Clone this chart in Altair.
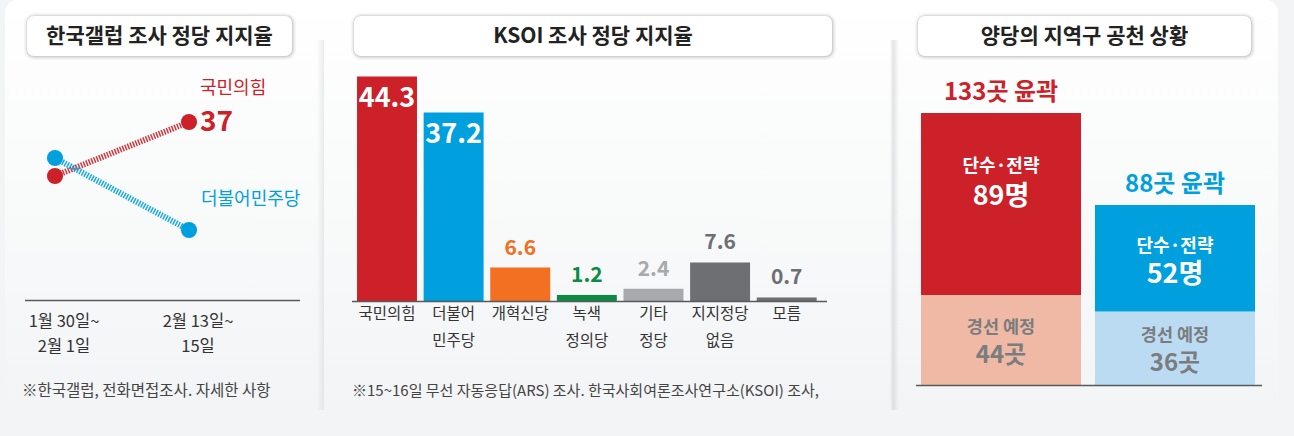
import altair as alt
import pandas as pd

# ---------------- data ----------------
gallup_dates = ["1월 30일~\n2월 1일", "2월 13일~\n15일"]
gallup_parties = ["국민의힘", "더불어민주당"]
gallup_ppp = [34, 37]
gallup_dem = [35, 31]

ksoi_cats = ["국민의힘", "더불어\n민주당", "개혁신당", "녹색\n정의당", "기타\n정당", "지지정당\n없음", "모름"]
ksoi_vals = [44.3, 37.2, 6.6, 1.2, 2.4, 7.6, 0.7]

nom_parties = ["국민의힘", "더불어민주당"]
nom_direct = [89, 52]
nom_primary = [44, 36]
seg_names = ["경선 예정", "단수·전략"]

titles = ["한국갤럽 조사 정당 지지율", "KSOI 조사 정당 지지율", "양당의 지역구 공천 상황"]
notes = ["※한국갤럽, 전화면접조사. 자세한 사항",
         "※15~16일 무선 자동응답(ARS) 조사. 한국사회여론조사연구소(KSOI) 조사,"]

# ---------------- style ----------------
KR = "Noto Sans CJK KR"
RED = "#cc2129"
BLUE = "#00a0de"
ORANGE = "#f36f21"
GREEN = "#0b8c45"
LGRAY = "#a7a9ac"
DGRAY = "#6e6f72"
PINK = "#efb9a5"
LBLUE = "#bbdbf3"
SEGTXT = "#7b7c7e"
bar_colors = [RED, BLUE, ORANGE, GREEN, LGRAY, DGRAY, DGRAY]

H = 436
W1, W2, W3 = 330, 560, 404

one = pd.DataFrame({"k": [0]})

card_grad = alt.Gradient(
    gradient="linear", x1=0, x2=0, y1=0, y2=1,
    stops=[alt.GradientStop(color="#ffffff", offset=0),
           alt.GradientStop(color="#f9fafa", offset=0.45),
           alt.GradientStop(color="#f3f4f6", offset=0.95)])


def card(x0, x1, **kw):
    return alt.Chart(one).mark_rect(color=card_grad, **kw).encode(
        x=alt.value(x0), x2=alt.value(x1), y=alt.value(0), y2=alt.value(H))


def shadow(x0, x1, stops):
    g = alt.Gradient(gradient="linear", x1=0, x2=1, y1=0, y2=0,
                     stops=[alt.GradientStop(color=c, offset=o) for o, c in stops])
    return alt.Chart(one).mark_rect(color=g).encode(
        x=alt.value(x0), x2=alt.value(x1), y=alt.value(40), y2=alt.value(410))


def title_box(x0, x1, text):
    b = alt.Chart(pd.DataFrame({"t": [text]}))
    return [
        b.mark_rect(cornerRadius=10, color="#000000", opacity=0.035).encode(
            x=alt.value(x0 - 3), x2=alt.value(x1 + 4), y=alt.value(13), y2=alt.value(60)),
        b.mark_rect(cornerRadius=9, color="#000000", opacity=0.06).encode(
            x=alt.value(x0 - 1.5), x2=alt.value(x1 + 2.5), y=alt.value(14.5), y2=alt.value(58.5)),
        b.mark_rect(cornerRadius=8, color="#000000", opacity=0.09).encode(
            x=alt.value(x0 - 0.5), x2=alt.value(x1 + 1.2), y=alt.value(15.5), y2=alt.value(57.2)),
        b.mark_rect(cornerRadius=7, color="#ffffff").encode(
            x=alt.value(x0), x2=alt.value(x1), y=alt.value(16), y2=alt.value(56)),
        b.mark_text(font=KR, fontSize=21, fontWeight="bold", color="#222222",
                    baseline="middle").encode(
            x=alt.value((x0 + x1) / 2), y=alt.value(36.5), text="t:N"),
    ]


def footnote(x0, text, size):
    return alt.Chart(pd.DataFrame({"t": [text]})).mark_text(
        font=KR, fontSize=size, align="left", baseline="middle", color="#444444").encode(
        x=alt.value(x0), y=alt.value(391), text="t:N")


def baseline_rule(x0, x1, y):
    return alt.Chart(one).mark_rule(color="#58595b", strokeWidth=1.6).encode(
        x=alt.value(x0), x2=alt.value(x1), y=alt.value(y))


# ---------------- panel 1: Gallup line ----------------
g_rows = []
for i, d in enumerate(gallup_dates):
    g_rows.append({"date": d, "party": gallup_parties[0], "v": gallup_ppp[i], "i": i})
    g_rows.append({"date": d, "party": gallup_parties[1], "v": gallup_dem[i], "i": i})
gdf = pd.DataFrame(g_rows)

gx = alt.X("date:N", scale=alt.Scale(type="point", domain=gallup_dates, range=[55, 189], padding=0), axis=None)
gy = alt.Y("v:Q", scale=alt.Scale(domain=[19.556, 43.778], nice=False, zero=False), axis=None)
gcol = alt.Color("party:N", scale=alt.Scale(domain=gallup_parties, range=[RED, BLUE]), legend=None)
gb = alt.Chart(gdf).encode(x=gx, y=gy, color=gcol)

g_lines = gb.mark_line(strokeWidth=6, strokeDash=[1.5, 1.3], opacity=0.9)
g_points = gb.mark_circle(size=260, opacity=1)
last_red = (alt.datum.i == 1) & (alt.datum.party == gallup_parties[0])
last_blue = (alt.datum.i == 1) & (alt.datum.party == gallup_parties[1])
g_name_red = gb.transform_filter(last_red).mark_text(
    font=KR, fontSize=18, align="left", baseline="middle", dx=11, dy=-33).encode(text="party:N")
g_val_red = gb.transform_filter(last_red).mark_text(
    font=KR, fontSize=28, fontWeight="bold", align="left", baseline="middle", dx=11, dy=1).encode(text="v:Q")
g_name_blue = gb.transform_filter(last_blue).mark_text(
    font=KR, fontSize=18, align="left", baseline="middle", dx=12, dy=-30).encode(text="party:N")
g_dates = alt.Chart(pd.DataFrame({"date": gallup_dates})).mark_text(
    font=KR, fontSize=16.5, lineBreak="\n", lineHeight=25, baseline="alphabetic",
    color="#333333", dx=9).encode(x=gx, y=alt.value(327), text="date:N")

p1 = alt.layer(
    card(5, W1 + 2, cornerRadiusTopLeft=12),
    shadow(317, 324, [(0, "rgba(205,206,209,0)"), (1, "rgba(205,206,209,0.4)")]),
    *title_box(27, 292, titles[0]),
    baseline_rule(25, 300, 300.5),
    g_lines, g_points, g_name_red, g_val_red, g_name_blue, g_dates,
    footnote(22, notes[0], 15.5),
).properties(width=W1, height=H)

# ---------------- panel 2: KSOI bars ----------------
kdf = pd.DataFrame({"cat": ksoi_cats, "v": ksoi_vals})
kx = alt.X("cat:N", scale=alt.Scale(type="band", domain=ksoi_cats, range=[23.7, 490],
                                     paddingInner=0.1, paddingOuter=0.05), axis=None)
ky = alt.Y("v:Q", scale=alt.Scale(domain=[-26.63, 59.37], nice=False, zero=False), axis=None)
kcol = alt.Color("cat:N", scale=alt.Scale(domain=ksoi_cats, range=bar_colors), legend=None)
kb = alt.Chart(kdf).encode(x=kx, y=ky)

k_bars = kb.transform_calculate(z="0").mark_bar().encode(y2="z:Q", color=kcol)
k_in = kb.transform_filter(alt.datum.v > 20).mark_text(
    font=KR, fontSize=27, fontWeight="bold", color="#ffffff", baseline="middle", dy=23).encode(
    text=alt.Text("v:Q", format=".1f"))
k_out = kb.transform_filter(alt.datum.v <= 20).mark_text(
    font=KR, fontSize=21, fontWeight="bold", baseline="middle", dy=-19).encode(
    text=alt.Text("v:Q", format=".1f"), color=kcol)
k_cats = alt.Chart(pd.DataFrame({"cat": ksoi_cats})).mark_text(
    font=KR, fontSize=15.5, lineBreak="\n", lineHeight=26.5, baseline="alphabetic",
    color="#333333").encode(x=kx, y=alt.value(319), text="cat:N")

p2 = alt.layer(
    card(0, W2),
    *title_box(24, 502, titles[1]),
    k_bars,
    baseline_rule(22, 497, 301.5),
    k_in, k_out, k_cats,
    footnote(22, notes[1], 15),
).properties(width=W2, height=H)

# ---------------- panel 3: stacked nominations ----------------
n_rows = []
for p, d, q in zip(nom_parties, nom_direct, nom_primary):
    n_rows.append({"party": p, "seg": seg_names[0], "v": q, "o": 0, "total": d + q})
    n_rows.append({"party": p, "seg": seg_names[1], "v": d, "o": 1, "total": d + q})
ndf = pd.DataFrame(n_rows)

nb = alt.Chart(ndf).transform_stack(
    stack="v", groupby=["party"], sort=[alt.SortField(field="o", order="ascending")], as_=["y0", "y1"]
).transform_calculate(mid="(datum.y0 + datum.y1) / 2", key="datum.party + '|' + datum.seg")
nx = alt.X("party:N", scale=alt.Scale(type="band", domain=nom_parties, range=[31, 365],
                                       paddingInner=0.0805, paddingOuter=0), axis=None)
nscale = alt.Scale(domain=[-24.94, 188.26], nice=False, zero=False)
key_dom = [p + "|" + s for p in nom_parties for s in seg_names]
ncol = alt.Color("key:N", scale=alt.Scale(domain=key_dom, range=[PINK, RED, LBLUE, BLUE]), legend=None)

n_bars = nb.mark_bar().encode(x=nx, y=alt.Y("y0:Q", scale=nscale, axis=None), y2="y1:Q", color=ncol)

n_layers = []
top_colors = [RED, BLUE]
direct_dy = [(-37, -7), (-11, 17)]
for k, p in enumerate(nom_parties):
    sel = nb.transform_filter(alt.datum.party == p)
    top = sel.transform_filter(alt.datum.o == 1).transform_calculate(
        tl="datum.total + '곳 윤곽'")
    n_layers.append(top.mark_text(font=KR, fontSize=24, fontWeight="bold", color=top_colors[k],
                                  baseline="middle", dy=-20).encode(
        x=nx, y=alt.Y("y1:Q", scale=nscale), text="tl:N"))
    dsel = top.transform_calculate(num="datum.v + '명'")
    n_layers.append(dsel.mark_text(font=KR, fontSize=18, fontWeight="bold", color="#ffffff",
                                   baseline="middle", dy=direct_dy[k][0]).encode(
        x=nx, y=alt.Y("mid:Q", scale=nscale), text="seg:N"))
    n_layers.append(dsel.mark_text(font=KR, fontSize=27, fontWeight="bold", color="#ffffff",
                                   baseline="middle", dy=direct_dy[k][1]).encode(
        x=nx, y=alt.Y("mid:Q", scale=nscale), text="num:N"))
    psel = sel.transform_filter(alt.datum.o == 0).transform_calculate(num="datum.v + '곳'")
    n_layers.append(psel.mark_text(font=KR, fontSize=17.5, fontWeight="bold", color=SEGTXT,
                                   baseline="middle", dy=-12).encode(
        x=nx, y=alt.Y("mid:Q", scale=nscale), text="seg:N"))
    n_layers.append(psel.mark_text(font=KR, fontSize=24, fontWeight="bold", color=SEGTXT,
                                   baseline="middle", dy=15.5).encode(
        x=nx, y=alt.Y("mid:Q", scale=nscale), text="num:N"))

p3 = alt.layer(
    card(0, 388, cornerRadiusTopRight=12),
    shadow(0, 9, [(0, "rgba(195,196,199,0)"), (0.35, "rgba(195,196,199,0.45)"), (1, "rgba(195,196,199,0)")]),
    *title_box(28, 361, titles[2]),
    n_bars,
    baseline_rule(26, 372, 385.5),
    *n_layers,
).properties(width=W3, height=H)

chart = alt.hconcat(p1, p2, p3, spacing=0, bounds="flush").resolve_scale(
    color="independent"
).properties(
    padding=0, background="#f3f4f6"
).configure_view(strokeWidth=0)

chart.save("out.html", embed_options={"renderer": "svg", "actions": False})
